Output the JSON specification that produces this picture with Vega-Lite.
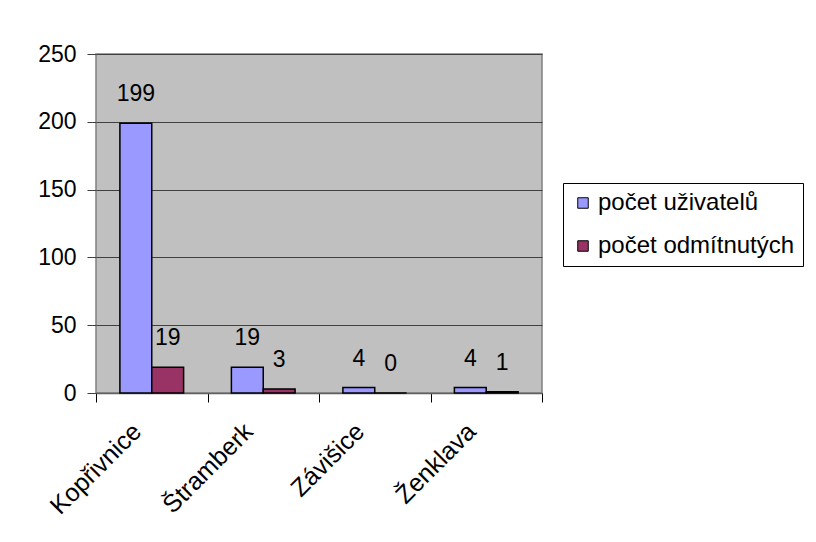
{
  "$schema": "https://vega.github.io/schema/vega-lite/v6.json",
  "width": 446,
  "height": 339,
  "autosize": "none",
  "padding": {"left": 96, "top": 54, "right": 274, "bottom": 149},
  "background": "white",
  "config": {
    "font": "Liberation Sans",
    "view": {"fill": "#C0C0C0", "stroke": "#808080", "strokeWidth": 1.5}
  },
  "data": {
    "values": [
      {"obec": "Kopřivnice", "serie": "počet uživatelů", "hodnota": 199},
      {"obec": "Kopřivnice", "serie": "počet odmítnutých", "hodnota": 19},
      {"obec": "Štramberk", "serie": "počet uživatelů", "hodnota": 19},
      {"obec": "Štramberk", "serie": "počet odmítnutých", "hodnota": 3},
      {"obec": "Závišice", "serie": "počet uživatelů", "hodnota": 4},
      {"obec": "Závišice", "serie": "počet odmítnutých", "hodnota": 0},
      {"obec": "Ženklava", "serie": "počet uživatelů", "hodnota": 4},
      {"obec": "Ženklava", "serie": "počet odmítnutých", "hodnota": 1}
    ]
  },
  "encoding": {
    "x": {
      "field": "obec",
      "type": "nominal",
      "sort": null,
      "scale": {"paddingInner": 0, "paddingOuter": 0},
      "axis": {
        "title": null,
        "labelAngle": -45,
        "labelAlign": "right",
        "labelBaseline": "middle",
        "labelFontSize": 25,
        "labelColor": "black",
        "labelPadding": 25,
        "labelOffset": -15,
        "labelLimit": 0,
        "tickBand": "extent",
        "tickSize": 9,
        "tickColor": "black",
        "domainColor": "#606060",
        "domainWidth": 1.5,
        "grid": false
      }
    },
    "xOffset": {
      "field": "serie",
      "type": "nominal",
      "sort": ["počet uživatelů", "počet odmítnutých"],
      "scale": {"paddingInner": 0, "paddingOuter": 0.75}
    },
    "y": {
      "field": "hodnota",
      "type": "quantitative",
      "scale": {"domain": [0, 250], "nice": false},
      "axis": {
        "title": null,
        "values": [0, 50, 100, 150, 200, 250],
        "grid": true,
        "gridColor": "#404040",
        "gridWidth": 1,
        "labelFontSize": 23,
        "labelColor": "black",
        "labelPadding": 11,
        "tickSize": 9,
        "tickColor": "#404040",
        "domain": false
      }
    }
  },
  "layer": [
    {
      "mark": {"type": "bar", "stroke": "black", "strokeWidth": 1.5},
      "encoding": {
        "color": {
          "field": "serie",
          "type": "nominal",
          "scale": {
            "domain": ["počet uživatelů", "počet odmítnutých"],
            "range": ["#9999FF", "#993366"]
          },
          "legend": {
            "title": null,
            "orient": "none",
            "legendX": 467,
            "legendY": 129,
            "symbolType": "square",
            "symbolSize": 110,
            "symbolStrokeColor": "black",
            "symbolStrokeWidth": 1,
            "labelFontSize": 24,
            "labelLimit": 0,
            "labelColor": "black",
            "labelOffset": 3,
            "rowPadding": 19,
            "strokeColor": "black",
            "fillColor": "white",
            "padding": 8
          }
        }
      }
    },
    {
      "mark": {"type": "text", "baseline": "middle", "dy": -29, "fontSize": 23, "color": "black"},
      "encoding": {
        "text": {"field": "hodnota", "type": "quantitative"}
      }
    }
  ]
}
